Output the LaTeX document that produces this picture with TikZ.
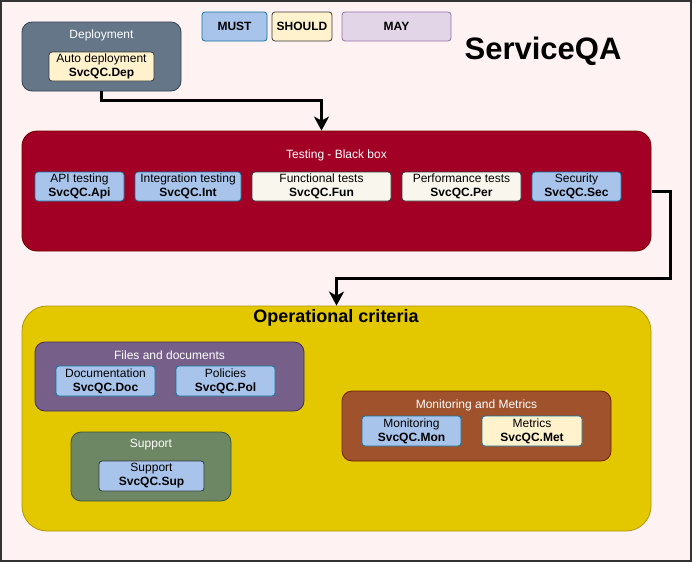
\documentclass[tikz,border=0pt]{standalone}
\usepackage{fontspec}
\setmainfont{Liberation Sans}
\usetikzlibrary{arrows.meta}
\definecolor{bgc}{HTML}{FFF2F2}
\definecolor{bgs}{HTML}{333333}
\definecolor{depf}{HTML}{647687}
\definecolor{deps}{HTML}{314354}
\definecolor{bluef}{HTML}{A9C4EB}
\definecolor{blues}{HTML}{10739E}
\definecolor{yelf}{HTML}{FFF2CC}
\definecolor{darks}{HTML}{36393D}
\definecolor{mayf}{HTML}{E1D5E7}
\definecolor{mays}{HTML}{9673A6}
\definecolor{testf}{HTML}{A20025}
\definecolor{tests}{HTML}{6F0000}
\definecolor{whitef}{HTML}{F9F7ED}
\definecolor{opf}{HTML}{E3C800}
\definecolor{ops}{HTML}{B09500}
\definecolor{filef}{HTML}{76608A}
\definecolor{files}{HTML}{432D57}
\definecolor{supf}{HTML}{6D8764}
\definecolor{sups}{HTML}{3A5431}
\definecolor{monf}{HTML}{A0522D}
\definecolor{mons}{HTML}{6D1F00}
\tikzset{
  grp/.style={draw, line width=0.8pt, inner sep=0pt, rounded corners=#1},
  grp/.default=10pt,
  item/.style={draw, line width=0.8pt, rounded corners=3pt, inner sep=0pt, align=center,
    font=\fontsize{12}{14}\selectfont, minimum height=29pt},
  ttl/.style={text=white, inner sep=0pt, font=\fontsize{12}{14}\selectfont},
  bitem/.style={item, fill=bluef, draw=blues},
  yitem/.style={item, fill=yelf, draw=darks},
  witem/.style={item, fill=whitef, draw=darks},
  legend/.style={item, font=\fontsize{12}{14}\selectfont\bfseries},
  flow/.style={line width=3pt, -{Stealth[length=14pt,width=15pt,inset=4pt]}},
}
\begin{document}
\begin{tikzpicture}[x=1pt,y=-1pt]
\useasboundingbox (0,0) rectangle (692,562);
\node[draw=bgs, fill=bgc, line width=2pt, minimum width=690pt, minimum height=560pt, inner sep=0pt] (bg) at (346,281) {};

% legend
\node[legend, fill=bluef, draw=blues, minimum width=65pt] (must) at (234.5,26.5) {MUST};
\node[legend, fill=yelf, draw=darks, minimum width=60pt] (should) at (302,26.5) {SHOULD};
\node[legend, fill=mayf, draw=mays, minimum width=109pt] (may) at (396.5,26.5) {MAY};
\node[inner sep=0pt, font=\fontsize{31}{34}\selectfont\bfseries] (title) at (543,51) {ServiceQA};

% deployment
\node[grp, fill=depf, draw=deps, minimum width=159pt, minimum height=69pt] (dep) at (101.5,56.5) {};
\node[ttl] (depT) at (101.5,35) {Deployment};
\node[yitem, minimum width=105pt] (depI) at (101.5,66.5) {Auto deployment\\\textbf{SvcQC.Dep}};

% testing
\node[grp=15pt, fill=testf, draw=tests, minimum width=629pt, minimum height=120pt] (test) at (336.5,191) {};
\node[ttl] (testT) at (336.5,155) {Testing - Black box};
\node[bitem, minimum width=89pt] (api) at (79.5,186.5) {API testing\\\textbf{SvcQC.Api}};
\node[bitem, minimum width=106pt] (int) at (188,186.5) {Integration testing\\\textbf{SvcQC.Int}};
\node[witem, minimum width=139pt] (fun) at (321.5,186.5) {Functional tests\\\textbf{SvcQC.Fun}};
\node[witem, minimum width=119pt] (per) at (461.5,186.5) {Performance tests\\\textbf{SvcQC.Per}};
\node[bitem, minimum width=89pt] (sec) at (576.5,186.5) {Security\\\textbf{SvcQC.Sec}};

% operational
\node[grp=25pt, fill=opf, draw=ops, minimum width=629pt, minimum height=225pt] (op) at (336.5,418.5) {};
\node[inner sep=0pt, font=\fontsize{18}{21}\selectfont\bfseries] (opT) at (336,318) {Operational criteria};

\node[grp, fill=filef, draw=files, minimum width=269pt, minimum height=69pt] (fd) at (169.5,376.5) {};
\node[ttl] (fdT) at (169.5,355) {Files and documents};
\node[bitem, minimum width=99pt, minimum height=30pt] (doc) at (105.5,381) {Documentation\\\textbf{SvcQC.Doc}};
\node[bitem, minimum width=99pt, minimum height=30pt] (pol) at (225.5,381) {Policies\\\textbf{SvcQC.Pol}};

\node[grp, fill=supf, draw=sups, minimum width=160pt, minimum height=69pt] (sup) at (151,466.5) {};
\node[ttl] (supT) at (151,445) {Support};
\node[item, fill=bluef, draw=darks, minimum width=105pt, minimum height=30pt] (supI) at (151.5,476) {Support\\\textbf{SvcQC.Sup}};

\node[grp, fill=monf, draw=mons, minimum width=269pt, minimum height=70pt] (mm) at (476.5,426) {};
\node[ttl] (mmT) at (476.5,405) {Monitoring and Metrics};
\node[bitem, minimum width=99pt, minimum height=30pt] (mon) at (411.5,431) {Monitoring\\\textbf{SvcQC.Mon}};
\node[item, fill=yelf, draw=blues, minimum width=100pt, minimum height=30pt] (met) at (532,431) {Metrics\\\textbf{SvcQC.Met}};

% connectors
\draw[flow] (dep.south) -- ++(0,9) -| ([xshift=-15pt]test.north);
\draw[flow] ([xshift=1pt]test.east) -- ++(18,0) |- ([yshift=27pt]op.north) -- (op.north);
\end{tikzpicture}
\end{document}
